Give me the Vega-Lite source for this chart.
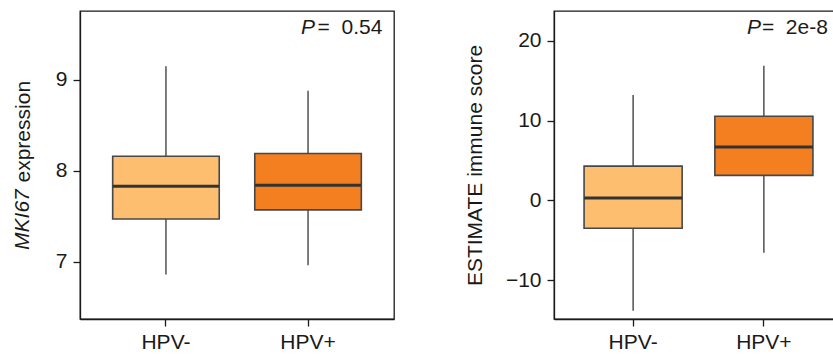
{
  "$schema": "https://vega.github.io/schema/vega-lite/v6.json",
  "padding": {"left": 11, "top": 10, "right": 0, "bottom": 0},
  "config": {
    "font": "Liberation Sans",
    "view": {"stroke": "#1a1a1a", "strokeWidth": 1.3},
    "axis": {
      "labelFont": "Liberation Sans", "labelFontSize": 21, "labelColor": "#1a1a1a",
      "titleFont": "Liberation Sans", "titleFontSize": 21, "titleFontWeight": "normal", "titleColor": "#1a1a1a",
      "domainColor": "#1a1a1a", "tickColor": "#1a1a1a", "tickSize": 7, "domainWidth": 1.3, "tickWidth": 1.3,
      "grid": false, "labelPadding": 6, "titlePadding": 20
    },
    "concat": {"spacing": 68}
  },
  "datasets": {
    "mki67": [
      {"group": "HPV-", "lower": 6.86, "q1": 7.47, "median": 7.83, "q3": 8.16, "upper": 9.15},
      {"group": "HPV+", "lower": 6.96, "q1": 7.57, "median": 7.84, "q3": 8.19, "upper": 8.88}
    ],
    "immune": [
      {"group": "HPV-", "lower": -13.87, "q1": -3.5, "median": 0.29, "q3": 4.3, "upper": 13.23},
      {"group": "HPV+", "lower": -6.57, "q1": 3.13, "median": 6.68, "q3": 10.56, "upper": 16.9}
    ],
    "p_mki67": [{"label": "=\u00a0\u00a00.54", "y": 9.5}],
    "p_immune": [{"label": "=\u00a0\u00a02e-8", "y": 20.84}],
    "title_mki67": [{"t": "MKI67", "y": 7.13}]
  },
  "hconcat": [
    {
      "width": 314, "height": 308,
      "data": {"name": "mki67"},
      "encoding": {
        "x": {"field": "group", "type": "nominal",
              "scale": {"domain": ["HPV-", "HPV+"], "paddingInner": 0.25, "paddingOuter": 0.23},
              "axis": {"title": null, "labelAngle": 0, "labelPadding": 5}}
      },
      "layer": [
        {"mark": {"type": "rule", "color": "#444444", "strokeWidth": 1.4},
         "encoding": {
           "y": {"field": "lower", "type": "quantitative",
                 "scale": {"domain": [6.37, 9.758], "nice": false, "zero": false},
                 "axis": {"values": [7, 8, 9], "format": "d", "title": "expression", "titleAlign": "left", "titleAngle": 270,
                          "titleBaseline": "bottom", "titleX": -47, "titleY": 171}},
           "y2": {"field": "upper"}}},
        {"mark": {"type": "bar", "stroke": "#474747", "strokeWidth": 1.6},
         "encoding": {
           "y": {"field": "q1", "type": "quantitative"},
           "y2": {"field": "q3"},
           "fill": {"field": "group", "type": "nominal",
                    "scale": {"domain": ["HPV-", "HPV+"], "range": ["#FDBF6F", "#F47F20"]}, "legend": null}}},
        {"mark": {"type": "tick", "color": "#333333", "thickness": 3, "size": 106, "opacity": 1},
         "encoding": {"y": {"field": "median", "type": "quantitative"}}},
        {"data": {"name": "title_mki67"},
         "mark": {"type": "text", "angle": 270, "fontStyle": "italic", "fontSize": 21, "align": "left",
                  "baseline": "bottom", "color": "#1a1a1a"},
         "encoding": {"y": {"field": "y", "type": "quantitative"}, "text": {"field": "t"}, "x": {"value": -47}}},
        {"data": {"name": "p_mki67"},
         "mark": {"type": "text", "fontStyle": "italic", "fontSize": 21, "align": "left", "baseline": "alphabetic",
                  "color": "#1a1a1a", "dx": -7},
         "encoding": {"x": {"datum": "HPV+"}, "y": {"field": "y", "type": "quantitative"}, "text": {"value": "P"}}},
        {"data": {"name": "p_mki67"},
         "mark": {"type": "text", "fontSize": 21, "align": "left", "baseline": "alphabetic",
                  "color": "#1a1a1a", "dx": 9.5},
         "encoding": {"x": {"datum": "HPV+"}, "y": {"field": "y", "type": "quantitative"}, "text": {"field": "label"}}}
      ]
    },
    {
      "width": 289, "height": 308,
      "data": {"name": "immune"},
      "encoding": {
        "x": {"field": "group", "type": "nominal",
              "scale": {"domain": ["HPV-", "HPV+"], "paddingInner": 0.25, "paddingOuter": 0.23},
              "axis": {"title": null, "labelAngle": 0, "labelPadding": 5}}
      },
      "layer": [
        {"mark": {"type": "rule", "color": "#444444", "strokeWidth": 1.4},
         "encoding": {
           "y": {"field": "lower", "type": "quantitative",
                 "scale": {"domain": [-14.89, 23.76], "nice": false, "zero": false},
                 "axis": {"values": [-10, 0, 10, 20], "title": "ESTIMATE immune score"}},
           "y2": {"field": "upper"}}},
        {"mark": {"type": "bar", "stroke": "#474747", "strokeWidth": 1.6},
         "encoding": {
           "y": {"field": "q1", "type": "quantitative"},
           "y2": {"field": "q3"},
           "fill": {"field": "group", "type": "nominal",
                    "scale": {"domain": ["HPV-", "HPV+"], "range": ["#FDBF6F", "#F47F20"]}, "legend": null}}},
        {"mark": {"type": "tick", "color": "#333333", "thickness": 3, "size": 98, "opacity": 1},
         "encoding": {"y": {"field": "median", "type": "quantitative"}}},
        {"data": {"name": "p_immune"},
         "mark": {"type": "text", "fontStyle": "italic", "fontSize": 21, "align": "left", "baseline": "alphabetic",
                  "color": "#1a1a1a", "dx": -17},
         "encoding": {"x": {"datum": "HPV+"}, "y": {"field": "y", "type": "quantitative"}, "text": {"value": "P"}}},
        {"data": {"name": "p_immune"},
         "mark": {"type": "text", "fontSize": 21, "align": "left", "baseline": "alphabetic",
                  "color": "#1a1a1a", "dx": -2},
         "encoding": {"x": {"datum": "HPV+"}, "y": {"field": "y", "type": "quantitative"}, "text": {"field": "label"}}}
      ]
    }
  ]
}
